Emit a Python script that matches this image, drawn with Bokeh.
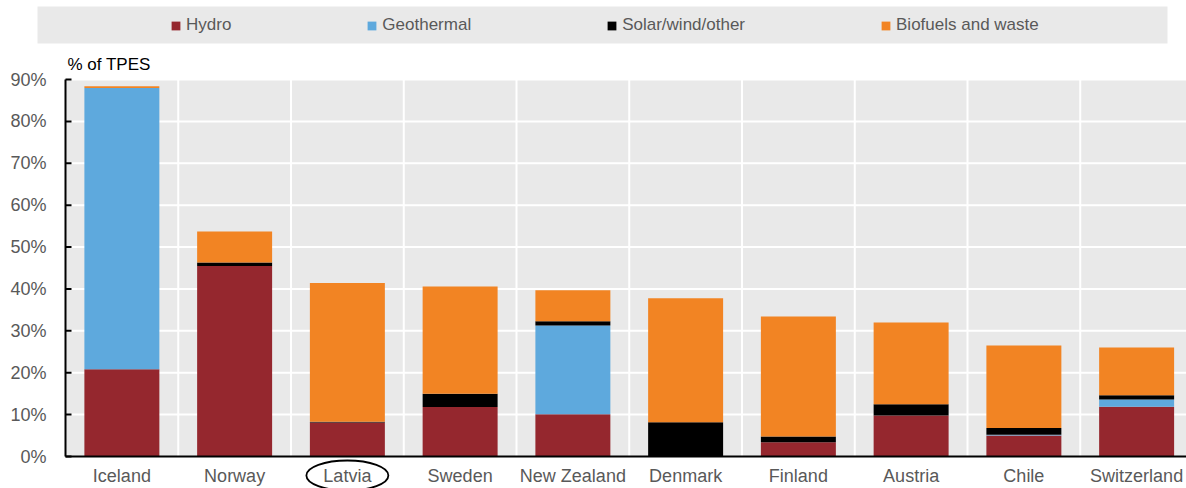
import math
from bokeh.plotting import figure
from bokeh.models import (ColumnDataSource, Range1d, BoxAnnotation, Legend, LegendItem)
from bokeh.core.properties import value
from bokeh.embed import file_html
from bokeh.resources import INLINE

countries = ["Iceland", "Norway", "Latvia", "Sweden", "New Zealand", "Denmark",
             "Finland", "Austria", "Chile", "Switzerland"]
hydro = [20.8, 45.5, 8.1, 11.8, 10.1, 0.0, 3.4, 9.8, 5.0, 11.9]
geothermal = [67.2, 0.0, 0.0, 0.0, 21.2, 0.0, 0.0, 0.0, 0.2, 1.7]
solar_wind_other = [0.0, 0.8, 0.2, 3.2, 1.0, 8.2, 1.4, 2.7, 1.6, 1.0]
biofuels_waste = [0.4, 7.4, 33.1, 25.6, 7.4, 29.6, 28.6, 19.5, 19.7, 11.4]
series_names = ["Hydro", "Geothermal", "Solar/wind/other", "Biofuels and waste"]
colors = ["#95272e", "#5ea9dd", "#000000", "#f28423"]
y_ticks = [0, 10, 20, 30, 40, 50, 60, 70, 80, 90]
y_tick_labels = ["0%", "10%", "20%", "30%", "40%", "50%", "60%", "70%", "80%", "90%"]
highlight = "Latvia"

W, H = 1186, 488
FONT = "Liberation Sans"
GREY_TEXT = "#595959"
BG = "#e9e9e9"

# layout: pixel frame of the plotting area
LEFT_PX, ZERO_PX, TOP_PX = 65, 456, 79
CAT_PX = 112.75
PX_PER_UNIT = (ZERO_PX - TOP_PX) / y_ticks[-1]


def X(px):
    return (px - LEFT_PX) / CAT_PX


def Y(py):
    return (ZERO_PX - py) / PX_PER_UNIT


n = len(countries)
x_pos = [i + 0.5 for i in range(n)]
x_end = X(W)

p = figure(width=W, height=H, x_range=Range1d(X(0), x_end), y_range=Range1d(Y(H), Y(0)),
           x_axis_location=None, y_axis_location=None, toolbar_location=None,
           output_backend="svg", min_border=0, min_border_left=0, min_border_right=0,
           min_border_top=0, min_border_bottom=0)
p.outline_line_color = None
p.background_fill_color = "white"
p.border_fill_color = "white"
p.grid.visible = False
for g in p.xgrid + p.ygrid:
    g.visible = False

# legend strip background
p.add_layout(BoxAnnotation(left=X(37), right=X(1167), bottom=Y(43), top=Y(6),
                           fill_color=BG, fill_alpha=1, line_color=None, level="underlay"))
# plotting area background
p.add_layout(BoxAnnotation(left=0, bottom=0, top=y_ticks[-1], fill_color=BG, fill_alpha=1,
                           line_color=None, level="underlay"))

# grid lines
bounds = list(range(1, n))
p.segment(x0=bounds, x1=bounds, y0=[y_ticks[0]] * len(bounds), y1=[y_ticks[-1]] * len(bounds),
          line_color="white", line_width=2)
p.segment(x0=[0] * (len(y_ticks) - 1), x1=[x_end] * (len(y_ticks) - 1), y0=y_ticks[1:],
          y1=y_ticks[1:], line_color="white", line_width=2)

# stacked bars
src = ColumnDataSource(data=dict(x=x_pos, hydro=hydro, geo=geothermal,
                                 solar=solar_wind_other, bio=biofuels_waste))
p.vbar_stack(["hydro", "geo", "solar", "bio"], x="x", width=0.665, color=colors,
             line_color=None, source=src)

# axes lines and ticks
p.segment(x0=[0], x1=[x_end], y0=[0], y1=[0], line_color="black", line_width=2)
p.segment(x0=[0], x1=[0], y0=[y_ticks[0]], y1=[y_ticks[-1]], line_color="black", line_width=2)
p.ray(x=[0] * len(y_ticks), y=y_ticks, length=6, length_units="screen", angle=0,
      line_color="black", line_width=2)

# y tick labels
p.text(x=[0] * len(y_ticks), y=y_ticks, text=y_tick_labels, x_offset=-19,
       text_align="right", text_baseline="middle", text_font=value(FONT),
       text_font_size="18px", text_color=GREY_TEXT)

# x category labels
p.text(x=x_pos, y=[0] * n, text=countries, y_offset=19, text_align="center",
       text_baseline="middle", text_font=value(FONT), text_font_size="18px",
       text_color=GREY_TEXT)

# circled highlight
hi = countries.index(highlight)
p.ellipse(x=[x_pos[hi]], y=[Y(475)], width=82, height=30, width_units="screen",
          height_units="screen", fill_color=None, line_color="black", line_width=1.8)

# unit label
p.text(x=[X(67)], y=[Y(64)], text=["% of TPES"], text_align="left", text_baseline="middle",
       text_font=value(FONT), text_font_size="17px", text_color="black")

# legend
items = []
for name, c in zip(series_names, colors):
    dummy = ColumnDataSource(data=dict(l=[math.nan], r=[math.nan], t=[math.nan], b=[math.nan]))
    r = p.quad(left="l", right="r", top="t", bottom="b", source=dummy,
               fill_color=c, line_color=None)
    items.append(LegendItem(label=name, renderers=[r]))
legend = Legend(items=items, orientation="horizontal", location=(170, 453),
                spacing=135, padding=0, margin=0, glyph_width=11, glyph_height=11,
                label_standoff=5, label_text_font=FONT, label_text_font_size="17px",
                label_text_color=GREY_TEXT, background_fill_alpha=0,
                border_line_color=None)
p.add_layout(legend, "center")

open("out.html", "w").write(file_html(p, INLINE))
